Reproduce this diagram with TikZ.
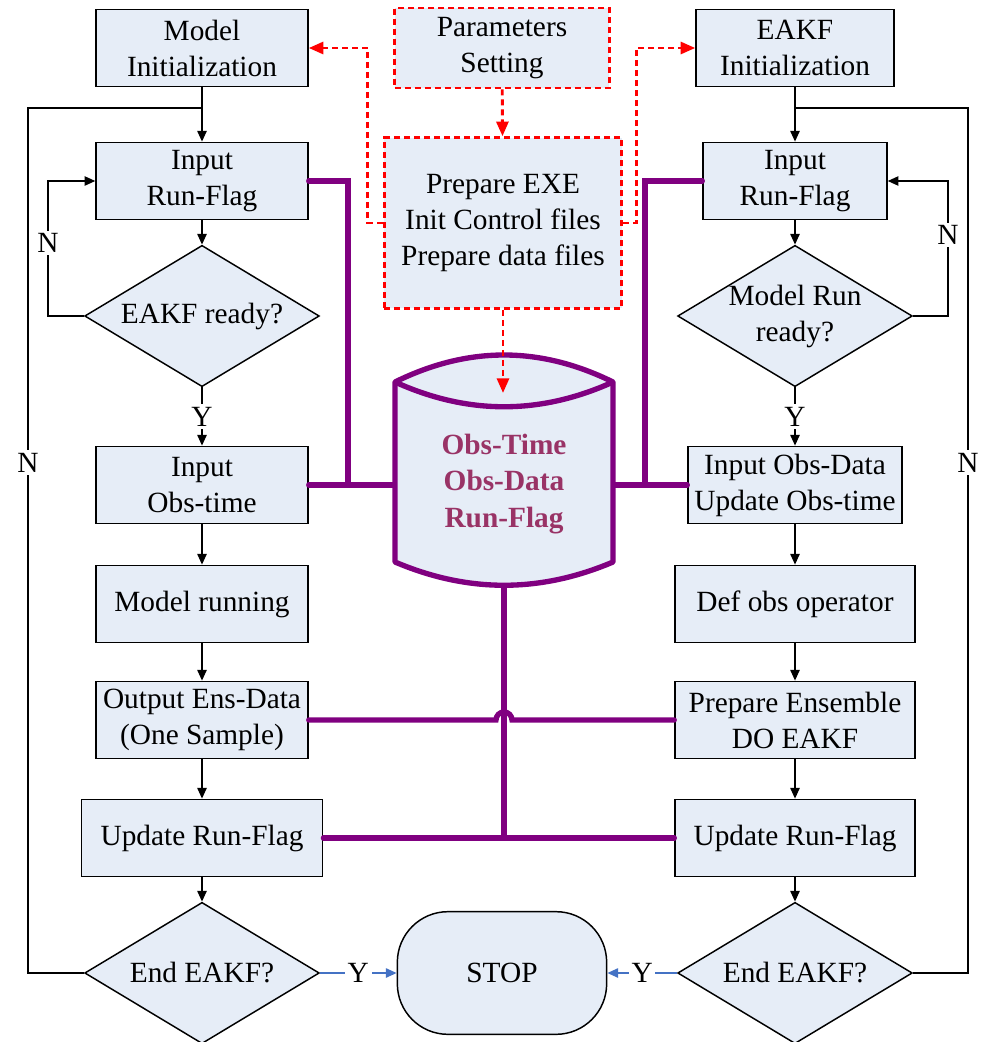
\documentclass[tikz,border=0pt]{standalone}
\usepackage{fontspec}
\setmainfont{Liberation Serif}
\usetikzlibrary{arrows,arrows.meta,shapes}
\definecolor{boxfill}{RGB}{230,237,247}
\definecolor{buspurple}{RGB}{128,0,128}
\definecolor{dbtext}{RGB}{153,51,102}
\definecolor{yesblue}{RGB}{68,114,196}
\tikzstyle{block} = [rectangle, draw, fill=boxfill, align=center,
    minimum width=159pt, minimum height=58pt, inner sep=2pt]
\tikzstyle{decision} = [diamond, draw, fill=boxfill, align=center, aspect=1.67,
    minimum width=176pt, minimum height=106pt, inner sep=-2pt]
\tikzstyle{setup} = [block, draw=red, dash pattern=on 4.5pt off 3pt, line width=2.2pt]
\tikzstyle{bus} = [draw=buspurple, line width=4pt, line cap=round]
\tikzstyle{cfg} = [-{Triangle[length=11pt, width=9pt]}, red,
    dash pattern=on 4.5pt off 3pt, line width=2.2pt]
\tikzstyle{lbl} = [fill=white, inner sep=2pt]

\begin{document}
\begin{tikzpicture}[x=0.75pt, y=-0.75pt, >={Triangle[length=8pt, width=7pt]},
                    line width=1.1pt, font=\fontsize{22}{27}\selectfont]
  \useasboundingbox (0,0) rectangle (982,1042);

  % shared data store
  \draw[buspurple, line width=4pt, line join=round, fill=boxfill]
    (395,382) .. controls (468,346) and (540,346) .. (613,382) -- (613,562)
    .. controls (540,593) and (468,593) .. (395,562) -- cycle;
  \draw[buspurple, line width=4pt] (395,382) .. controls (468,415) and (540,415) .. (613,382);
  \node[minimum width=163.5pt, minimum height=151.5pt, align=center, text=dbtext,
        font=\fontsize{22}{27.5}\selectfont\bfseries] (db) at (504,484) {Obs-Time\\Obs-Data\\Run-Flag};

  % top row
  \node[block]  (mi) at (202,48) {Model\\Initialization};
  \node[setup, minimum width=161pt, minimum height=60pt] (ps) at (502,48) {Parameters\\Setting};
  \node[block, minimum width=148.5pt] (ei) at (795,48) {EAKF\\Initialization};
  \node[setup, minimum width=178pt, minimum height=128pt] (prep) at (503,223)
        {Prepare EXE\\Init Control files\\Prepare data files};

  % model side
  \node[block]    (lrf)   at (202,181) {Input\\Run-Flag};
  \node[decision] (lrdy)  at (202,316) {EAKF ready?};
  \node[block]    (lobs)  at (202,485) {Input\\Obs-time};
  \node[block]    (lrun)  at (202,604) {Model running};
  \node[block]    (lens)  at (202,720) {Output Ens-Data\\(One Sample)};
  \node[block, minimum width=181pt] (lupd) at (202,838) {Update Run-Flag};
  \node[decision] (lend)  at (202,973) {End EAKF?};

  % EAKF side
  \node[block, minimum width=138pt]   (rrf)  at (795,181) {Input\\Run-Flag};
  \node[decision] (rrdy)  at (795,316) {Model Run\\ready?};
  \node[block, minimum width=160.5pt] (robs) at (795,485) {Input Obs-Data\\Update Obs-time};
  \node[block, minimum width=180pt]   (rdef) at (795,604) {Def obs operator};
  \node[block, minimum width=180pt]   (rens) at (795,720) {Prepare Ensemble\\DO EAKF};
  \node[block, minimum width=180pt]   (rupd) at (795,838) {Update Run-Flag};
  \node[decision] (rend)  at (795,973) {End EAKF?};

  \node[draw, fill=boxfill, rounded corners=38pt, minimum width=157pt,
        minimum height=92pt] (stop) at (502,973) {STOP};

  \coordinate (lo) at (28,108);
  \coordinate (ro) at (968,108);
  \coordinate (jl) at (348,485);
  \coordinate (jr) at (645,485);
  \coordinate (dbin) at (503,393);

  % control flow
  \path[->] (mi) edge (lrf)
            (lrf) edge (lrdy)
            (lrdy) edge node[lbl] {Y} (lobs)
            (lobs) edge (lrun)
            (lrun) edge (lens)
            (lens) edge (lupd)
            (lupd) edge (lend)
            (ei) edge (rrf)
            (rrf) edge (rrdy)
            (rrdy) edge node[lbl] {Y} (robs)
            (robs) edge (rdef)
            (rdef) edge (rens)
            (rens) edge (rupd)
            (rupd) edge (rend);
  \draw[->] (lrdy.west) -| (48,181) node[lbl, pos=0.77] {N} -- (lrf.west);
  \draw[->] (rrdy.east) -| (948,181) node[lbl, pos=0.8] {N} -- (rrf.east);
  \draw (lend.west) -| (lo) node[lbl, pos=0.795] {N} -- (lo -| mi.south);
  \draw (rend.east) -| (ro) node[lbl, pos=0.795] {N} -- (ro -| ei.south);
  \draw[->, yesblue] (lend.east) -- node[lbl, text=black] {Y} (stop.west);
  \draw[->, yesblue] (rend.west) -- node[lbl, text=black] {Y} (stop.east);

  % parameter setup
  \draw[cfg] (ps) -- (prep);
  \draw[cfg] (prep.west) -- ++(-15,0) |- (mi.east);
  \draw[cfg] (prep.east) -- ++(13,0) |- (ei.west);
  \draw[cfg] (prep.south) -- (dbin);

  % data exchange
  \draw[bus] (lrf.east) -| (jl);
  \draw[bus] (lobs.east) -- (lobs.east -| db.west);
  \draw[bus] (rrf.west) -| (jr);
  \draw[bus] (robs.west) -- (robs.west -| db.east);
  \draw[bus] (db.south) -- (db.south |- lupd.east);
  \draw[bus] (lupd.east) -- (rupd.west);
  \draw[bus] (lens.east) -- ([xshift=-6pt]db.south |- lens.east)
             arc[start angle=180, end angle=0, radius=6pt] -- (rens.west);
\end{tikzpicture}
\end{document}
